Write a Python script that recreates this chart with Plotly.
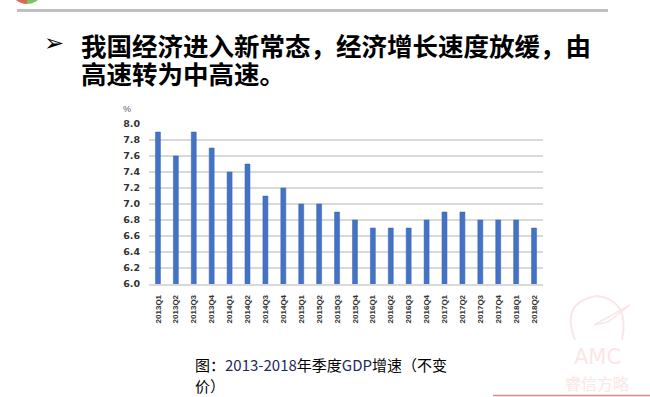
import plotly.graph_objects as go

quarters = ["2013Q1", "2013Q2", "2013Q3", "2013Q4", "2014Q1", "2014Q2", "2014Q3", "2014Q4",
            "2015Q1", "2015Q2", "2015Q3", "2015Q4", "2016Q1", "2016Q2", "2016Q3", "2016Q4",
            "2017Q1", "2017Q2", "2017Q3", "2017Q4", "2018Q1", "2018Q2"]
gdp_growth = [7.9, 7.6, 7.9, 7.7, 7.4, 7.5, 7.1, 7.2, 7.0, 7.0, 6.9, 6.8,
              6.7, 6.7, 6.7, 6.8, 6.9, 6.9, 6.8, 6.8, 6.8, 6.7]
y_ticks = [6.0, 6.2, 6.4, 6.6, 6.8, 7.0, 7.2, 7.4, 7.6, 7.8, 8.0]

heading_1 = "我国经济进入新常态，经济增长速度放缓，由"
heading_2 = "高速转为中高速。"
caption_1 = "图：<span style='color:#1f2a5a'>2013-2018</span>年季度<span style='color:#1f2a5a'>GDP</span>增速（不变"
caption_2 = "价）"

W, H = 650, 397
L, R, T, B = 149, 107, 124, 113

fig = go.Figure()
fig.add_trace(go.Bar(
    x=quarters, y=gdp_growth,
    marker=dict(color="#4472C4", line=dict(color="#3a64b0", width=0.5)),
    base=0,
))

fig.update_layout(
    width=W, height=H,
    margin=dict(l=L, r=R, t=T, b=B),
    paper_bgcolor="white", plot_bgcolor="white",
    bargap=0.72,
    showlegend=False,
    font=dict(family="Noto Sans CJK SC", color="#000"),
)
fig.update_xaxes(
    type="category", tickangle=-90,
    tickfont=dict(family="Liberation Sans", size=8, color="#333333", weight="bold"),
    showline=True, linecolor="#d9d9d9", linewidth=1.5,
    ticks="", ticklabelstandoff=6, showgrid=False,
)
fig.update_yaxes(
    range=[6.0, 8.0], tickvals=y_ticks, ticktext=[f"{v:.1f}" for v in y_ticks],
    showgrid=True, gridcolor="#d9d9d9", gridwidth=1.5, zeroline=False,
    tickfont=dict(family="DejaVu Sans", size=9.5, color="#333333", weight="bold"),
    ticklabelstandoff=8,
)

pw, ph = W - L - R, H - T - B
def px(x): return (x - L) / pw
def py(y): return ((H - y) - B) / ph

def note(text, x, y, size, family, color="#000", xanchor="center"):
    return dict(text=text, x=px(x), y=py(y), xref="paper", yref="paper", showarrow=False,
                xanchor=xanchor, yanchor="middle",
                font=dict(family=family, size=size, color=color))

wm = "#fae6e6"
ann = [
    note("%", 127, 109, 9, "Liberation Sans", "#595959"),
    note("➢", 54, 43, 24, "DejaVu Sans"),
    note("<b>" + heading_1 + "</b>", 79, 44, 25.5, "Noto Sans CJK SC", xanchor="left"),
    note("<b>" + heading_2 + "</b>", 79, 73, 25.5, "Noto Sans CJK SC", xanchor="left"),
    note(caption_1, 193, 364, 15, "Noto Sans CJK SC", xanchor="left"),
    note(caption_2, 193, 385, 15, "Noto Sans CJK SC", xanchor="left"),
    note("AMC", 597, 357, 21, "DejaVu Sans", wm),
    note("睿信方略", 597, 383, 16, "Noto Sans CJK SC", wm),
]
fig.update_layout(annotations=ann)

shapes = [
    dict(type="line", xref="paper", yref="paper", x0=px(17), x1=px(608), y0=py(10.5), y1=py(10.5),
         line=dict(color="#c0c0c0", width=3)),
    dict(type="line", xref="paper", yref="paper", x0=px(493), x1=px(650), y0=py(395.5), y1=py(395.5),
         line=dict(color="#e08a8a", width=1.5)),
    dict(type="path", xref="paper", yref="paper",
         path=f"M {px(16)},{py(0)} Q {px(21)},{py(4)} {px(27)},{py(4)} L {px(27)},{py(0)} Z",
         fillcolor="#e2674a", line=dict(width=0)),
    dict(type="path", xref="paper", yref="paper",
         path=f"M {px(27)},{py(0)} L {px(27)},{py(4)} Q {px(33)},{py(4)} {px(38)},{py(0)} Z",
         fillcolor="#7ac36a", line=dict(width=0)),
    dict(type="path", xref="paper", yref="paper",
         path=f"M {px(575)},{py(340)} Q {px(560)},{py(302)} {px(597)},{py(296)} Q {px(630)},{py(300)} {px(622)},{py(340)}",
         line=dict(color=wm, width=2)),
    dict(type="path", xref="paper", yref="paper",
         path=f"M {px(594)},{py(325)} L {px(630)},{py(305)} L {px(608)},{py(322)} Z",
         line=dict(color=wm, width=1.5)),
]
fig.update_layout(shapes=shapes)

fig.write_html("out.html", config={"displayModeBar": False},
               post_script="document.body.style.margin='0';document.body.style.overflow='hidden';")
